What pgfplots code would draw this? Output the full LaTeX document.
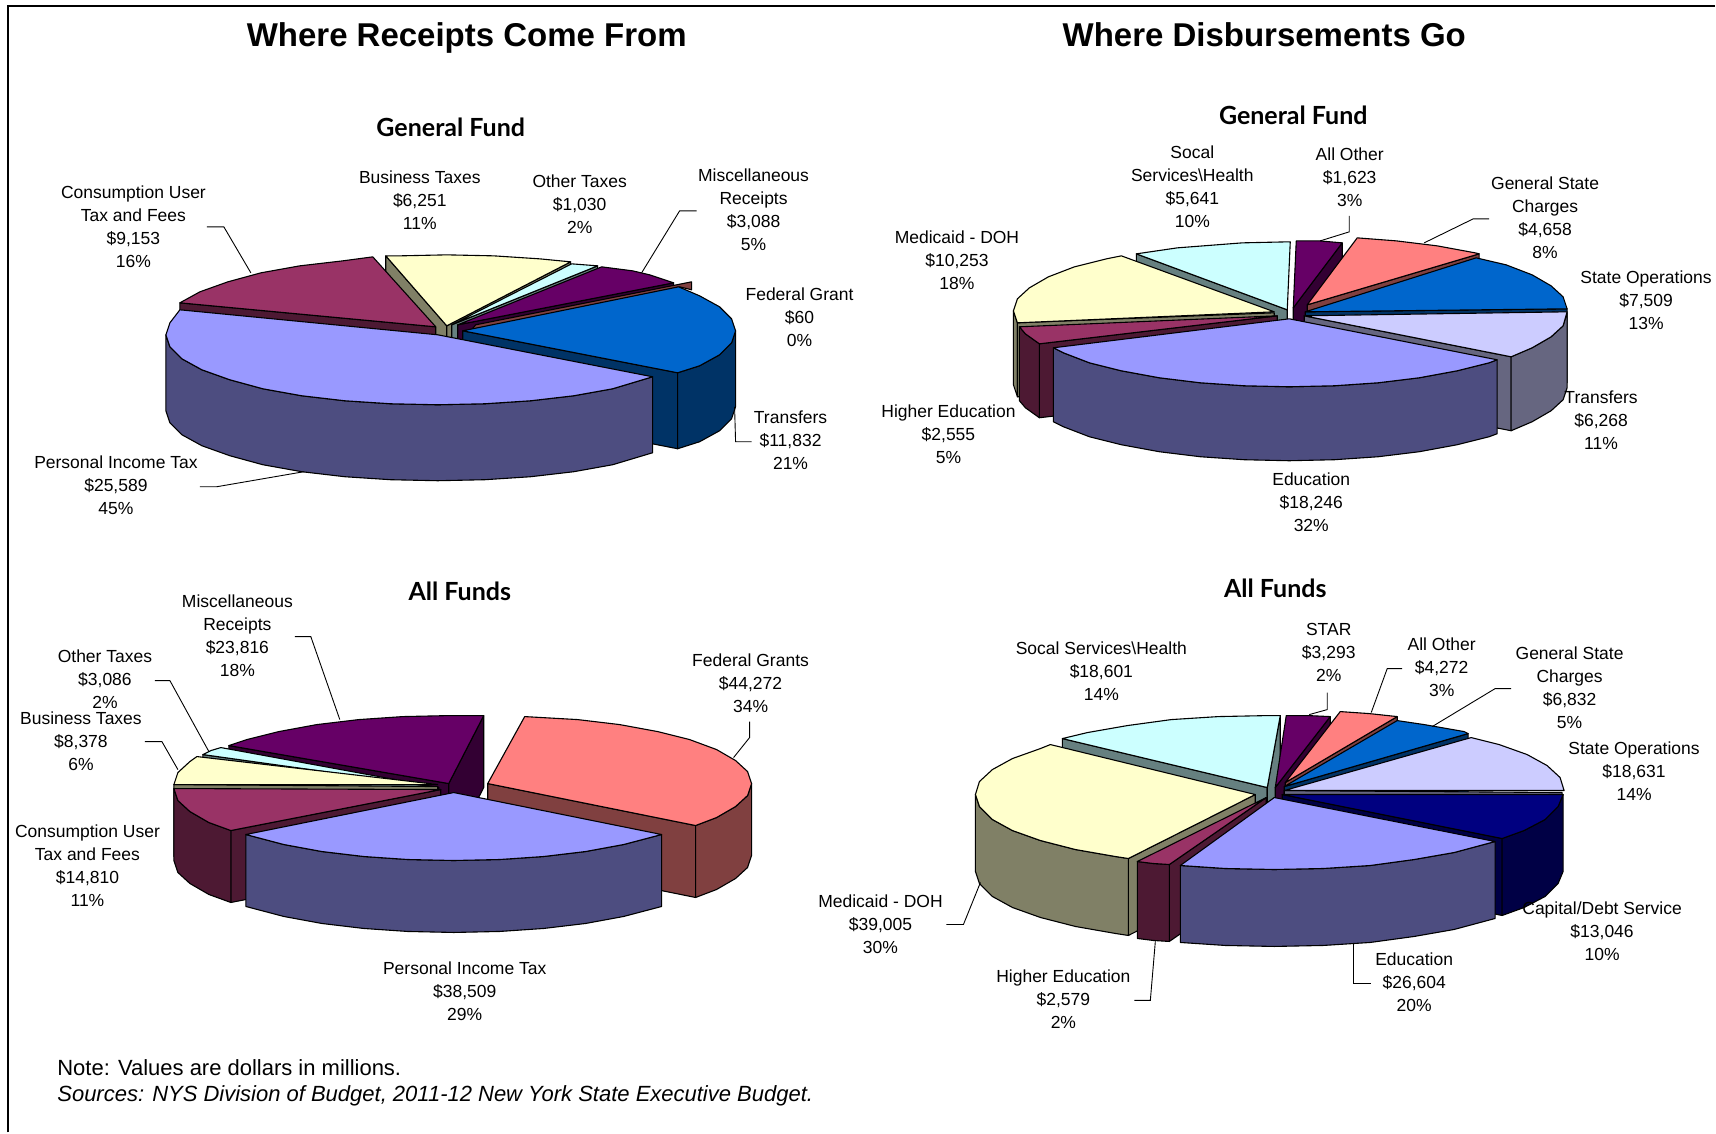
\documentclass[border=0pt]{standalone}
\usepackage{fontspec}
\setmainfont{Liberation Sans}
\newfontfamily\headfont{Lato}[BoldFont={Lato Bold}]
\usepackage{pgfplots}
\pgfplotsset{compat=1.18}
\definecolor{periA}{HTML}{9999FF}\definecolor{periB}{HTML}{4D4D80}
\definecolor{roseA}{HTML}{993366}\definecolor{roseB}{HTML}{4D1933}
\definecolor{creamA}{HTML}{FFFFCC}\definecolor{creamB}{HTML}{808066}
\definecolor{aquaA}{HTML}{CCFFFF}\definecolor{aquaB}{HTML}{668080}
\definecolor{plumA}{HTML}{660066}\definecolor{plumB}{HTML}{330033}
\definecolor{salmonA}{HTML}{FF8080}\definecolor{salmonB}{HTML}{804040}
\definecolor{blueA}{HTML}{0066CC}\definecolor{blueB}{HTML}{003366}
\definecolor{lilacA}{HTML}{CCCCFF}\definecolor{lilacB}{HTML}{666680}
\definecolor{navyA}{HTML}{000080}\definecolor{navyB}{HTML}{000045}
\pgfplotsset{
  piece/.style={draw=black,line width=0.55pt,line join=round,fill=#1,mark=none,forget plot},
  leader/.style={draw=black,line width=0.45pt,mark=none,forget plot},
}
\tikzset{
  lab/.style={align=center,inner sep=0pt,font=\fontsize{8.75}{11.5}\selectfont},
  bigtitle/.style={inner sep=0pt,anchor=base,font=\fontsize{16.5}{20}\selectfont\bfseries},
  subtitle/.style={inner sep=0pt,font=\headfont\fontsize{12.5}{15}\selectfont\bfseries},
}
\begin{document}
\begin{tikzpicture}
\begin{axis}[
  scale only axis,width=858pt,height=566.5pt,
  xmin=0,xmax=1716,ymin=0,ymax=1133,y dir=reverse,
  axis lines=none,clip=false]
% page ground and frame
\addplot[draw=none,fill=white,mark=none,forget plot] coordinates {(0,0)(1716,0)(1716,1133)(0,1133)} --cycle;
\addplot[draw=black,line width=1pt,mark=none,forget plot] coordinates {(8,1133)(8,6.5)(1716,6.5)};

% ---- Receipts, General Fund
\addplot[piece=creamB] coordinates {(386,256)(447,326)(447,402)(386,332)} --cycle;
\addplot[piece=creamB] coordinates {(571,262)(447,326)(447,402)(571,338)} --cycle;
\addplot[piece=creamA] coordinates {(447,326)(386,256)(400,256)(447,255)(494,256)(540,259)(571,262)} --cycle;
\addplot[piece=aquaB] coordinates {(598,266)(452,325)(452,401)(598,342)} --cycle;
\addplot[piece=aquaA] coordinates {(452,325)(572,264)(585,265)(598,266)} --cycle;
\addplot[piece=plumB] coordinates {(674,283)(458,325)(458,401)(674,359)} --cycle;
\addplot[piece=plumA] coordinates {(458,325)(602,267)(633,271)(650,275)(674,283)} --cycle;
\addplot[piece=salmonB] coordinates {(476,325)(692,282)(692,290)(680,287)(470,332)} --cycle;
\addplot[piece=roseB] coordinates {(180,303)(436,327)(436,403)(180,379)} --cycle;
\addplot[piece=roseA] coordinates {(436,327)(180,303)(200,292)(228,282)(261,273)(300,266)(343,261)(373,257)} --cycle;
\addplot[piece=blueB] coordinates {(463,331)(678,373)(678,449)(463,407)} --cycle;
\addplot[piece=blueB] coordinates {(678,373)(700,366)(720,355)(732,343)(736,331)(736,407)(732,419)(720,431)(700,442)(678,449)} --cycle;
\addplot[piece=blueA] coordinates {(463,331)(679,287)(700,296)(720,307)(732,319)(736,331)(732,343)(720,355)(700,366)(678,373)} --cycle;
\addplot[piece=periB] coordinates {(653,377)(613,389)(574,396)(531,401)(485,404)(438,405)(391,404)(345,401)(302,396)(263,389)(230,380)(202,370)(182,359)(170,347)(166,335)(166,411)(170,423)(182,435)(202,446)(230,456)(263,465)(302,472)(345,477)(391,480)(438,481)(485,480)(531,477)(574,472)(613,465)(653,453)} --cycle;
\addplot[piece=periA] coordinates {(438,335)(653,377)(613,389)(574,396)(531,401)(485,404)(438,405)(391,404)(345,401)(302,396)(263,389)(230,380)(202,370)(182,359)(170,347)(166,335)(170,323)(180,310)} --cycle;
\addplot[leader] coordinates {(207,227)(224,227)(251,273)};
\addplot[leader] coordinates {(697,211)(680,211)(642,273)};
\addplot[leader] coordinates {(735,407)(736,442)(752,442)};
\addplot[leader] coordinates {(200,487)(217,487)(304,472)};

% ---- Disbursements, General Fund
\addplot[piece=aquaB] coordinates {(1137,254)(1288,310)(1288,384)(1137,328)} --cycle;
\addplot[piece=aquaA] coordinates {(1288,310)(1137,254)(1178,248)(1243,243)(1288,242)(1291,242)} --cycle;
\addplot[piece=plumB] coordinates {(1343,243)(1294,308)(1294,382)(1343,317)} --cycle;
\addplot[piece=plumA] coordinates {(1294,308)(1297,241)(1320,241)(1343,243)} --cycle;
\addplot[piece=salmonB] coordinates {(1480,254)(1308,305)(1308,379)(1480,328)} --cycle;
\addplot[piece=salmonA] coordinates {(1308,305)(1358,238)(1397,241)(1438,246)(1476,253)(1480,254)} --cycle;
\addplot[piece=blueB] coordinates {(1568,309)(1306,312)(1306,386)(1568,383)} --cycle;
\addplot[piece=blueA] coordinates {(1306,312)(1477,258)(1507,265)(1533,275)(1552,286)(1564,297)(1568,309)} --cycle;
\addplot[piece=creamB] coordinates {(1014,311)(1018,323)(1018,397)(1014,385)} --cycle;
\addplot[piece=creamB] coordinates {(1018,323)(1275,313)(1275,387)(1018,397)} --cycle;
\addplot[piece=creamA] coordinates {(1275,312)(1122,256)(1107,259)(1075,267)(1049,277)(1030,288)(1018,299)(1014,311)(1018,323)} --cycle;
\addplot[piece=roseB] coordinates {(1040,344)(1278,316)(1278,390)(1040,418)} --cycle;
\addplot[piece=roseB] coordinates {(1020,327)(1026,334)(1033,339)(1040,344)(1040,418)(1033,413)(1026,408)(1020,401)} --cycle;
\addplot[piece=roseA] coordinates {(1278,316)(1020,327)(1026,334)(1033,339)(1040,344)} --cycle;
\addplot[piece=lilacB] coordinates {(1512,357)(1305,316)(1305,390)(1512,431)} --cycle;
\addplot[piece=lilacB] coordinates {(1512,357)(1533,348)(1552,337)(1564,326)(1568,313)(1568,388)(1564,400)(1552,411)(1533,422)(1512,431)} --cycle;
\addplot[piece=lilacA] coordinates {(1305,316)(1568,312)(1564,326)(1552,337)(1533,348)(1512,357)} --cycle;
\addplot[piece=periB] coordinates {(1498,360)(1490,363)(1458,371)(1420,378)(1379,383)(1335,386)(1290,387)(1245,386)(1201,383)(1160,378)(1122,371)(1090,363)(1064,353)(1054,348)(1054,422)(1064,427)(1090,437)(1122,445)(1160,452)(1201,457)(1245,460)(1290,461)(1335,460)(1379,457)(1420,452)(1458,445)(1490,437)(1498,434)} --cycle;
\addplot[piece=periA] coordinates {(1290,319)(1498,360)(1490,363)(1458,371)(1420,378)(1379,383)(1335,386)(1290,387)(1245,386)(1201,383)(1160,378)(1122,371)(1090,363)(1064,353)(1054,348)} --cycle;
\addplot[leader] coordinates {(1350,216)(1350,232)(1321,241)};
\addplot[leader] coordinates {(1490,219)(1474,219)(1425,243)};

% ---- Receipts, All Funds
\addplot[piece=plumB] coordinates {(229,746)(449,784)(449,856)(229,818)} --cycle;
\addplot[piece=plumB] coordinates {(484,716)(449,784)(449,856)(484,788)} --cycle;
\addplot[piece=plumA] coordinates {(449,784)(229,746)(247,740)(279,732)(317,725)(359,720)(403,717)(449,716)(484,716)} --cycle;
\addplot[piece=aquaB] coordinates {(203,755)(439,788)(439,860)(203,827)} --cycle;
\addplot[piece=aquaA] coordinates {(439,788)(203,755)(211,751)(221,748)} --cycle;
\addplot[piece=creamB] coordinates {(174,785)(438,787)(438,859)(174,857)} --cycle;
\addplot[piece=creamA] coordinates {(438,785)(197,757)(190,762)(178,773)(174,785)} --cycle;
\addplot[piece=roseB] coordinates {(231,831)(441,790)(441,862)(231,903)} --cycle;
\addplot[piece=roseB] coordinates {(174,789)(178,801)(190,812)(209,823)(231,831)(231,903)(209,895)(190,884)(178,873)(174,861)} --cycle;
\addplot[piece=roseA] coordinates {(441,790)(174,789)(178,801)(190,812)(209,823)(231,831)} --cycle;
\addplot[piece=salmonB] coordinates {(488,784)(696,826)(696,898)(488,856)} --cycle;
\addplot[piece=salmonB] coordinates {(696,826)(717,818)(736,807)(748,796)(752,784)(752,856)(748,868)(736,879)(717,890)(696,898)} --cycle;
\addplot[piece=salmonA] coordinates {(488,784)(525,717)(578,720)(620,725)(658,732)(690,740)(717,750)(736,761)(748,772)(752,784)(748,796)(736,807)(717,818)(696,826)} --cycle;
\addplot[piece=periB] coordinates {(662,835)(624,845)(586,852)(544,857)(500,860)(454,861)(408,860)(364,857)(322,852)(284,845)(246,835)(246,907)(284,917)(322,924)(364,929)(408,932)(454,933)(500,932)(544,929)(586,924)(624,917)(662,907)} --cycle;
\addplot[piece=periA] coordinates {(454,793)(662,835)(624,845)(586,852)(544,857)(500,860)(454,861)(408,860)(364,857)(322,852)(284,845)(246,835)} --cycle;
\addplot[leader] coordinates {(295,637)(311,637)(340,720)};
\addplot[leader] coordinates {(155,681)(170,681)(209,752)};
\addplot[leader] coordinates {(145,742)(162,742)(178,770)};
\addplot[leader] coordinates {(750,722)(750,738)(734,758)};

% ---- Disbursements, All Funds
\addplot[piece=aquaB] coordinates {(1063,739)(1268,788)(1268,865)(1063,816)} --cycle;
\addplot[piece=aquaB] coordinates {(1281,716)(1268,788)(1268,865)(1281,793)} --cycle;
\addplot[piece=aquaA] coordinates {(1268,788)(1063,739)(1088,733)(1128,726)(1172,720)(1219,717)(1268,716)(1281,716)} --cycle;
\addplot[piece=plumB] coordinates {(1331,717)(1276,788)(1276,865)(1331,794)} --cycle;
\addplot[piece=plumA] coordinates {(1276,788)(1287,716)(1309,716)(1331,717)} --cycle;
\addplot[piece=salmonB] coordinates {(1398,717)(1286,783)(1286,860)(1398,794)} --cycle;
\addplot[piece=salmonA] coordinates {(1286,783)(1341,712)(1370,714)(1398,717)} --cycle;
\addplot[piece=blueB] coordinates {(1469,734)(1285,787)(1285,864)(1469,811)} --cycle;
\addplot[piece=blueA] coordinates {(1285,787)(1398,721)(1425,725)(1465,732)(1469,734)} --cycle;
\addplot[piece=lilacB] coordinates {(1563,793)(1285,791)(1285,868)(1563,868)} --cycle;
\addplot[piece=lilacA] coordinates {(1285,791)(1472,738)(1500,745)(1528,755)(1548,766)(1561,778)(1565,791)} --cycle;
\addplot[piece=creamB] coordinates {(1129,859)(1256,795)(1256,872)(1129,936)} --cycle;
\addplot[piece=creamB] coordinates {(976,795)(980,807)(993,820)(1013,831)(1041,841)(1076,850)(1116,857)(1129,859)(1129,936)(1116,934)(1076,927)(1041,918)(1013,908)(993,897)(980,884)(976,872)} --cycle;
\addplot[piece=creamA] coordinates {(1256,795)(1051,745)(1041,749)(1013,759)(993,770)(980,782)(976,795)(980,807)(993,820)(1013,831)(1041,841)(1076,850)(1116,857)(1129,859)} --cycle;
\addplot[piece=navyB] coordinates {(1503,839)(1283,795)(1283,872)(1503,916)} --cycle;
\addplot[piece=navyB] coordinates {(1503,839)(1525,831)(1546,820)(1559,807)(1564,795)(1564,872)(1559,884)(1546,897)(1525,908)(1503,916)} --cycle;
\addplot[piece=navyA] coordinates {(1283,795)(1564,795)(1559,807)(1546,820)(1525,831)(1503,839)} --cycle;
\addplot[piece=roseB] coordinates {(1170,865)(1267,798)(1267,875)(1170,942)} --cycle;
\addplot[piece=roseB] coordinates {(1138,862)(1154,864)(1170,865)(1170,942)(1154,941)(1138,939)} --cycle;
\addplot[piece=roseA] coordinates {(1267,798)(1138,862)(1154,864)(1170,865)} --cycle;
\addplot[piece=periB] coordinates {(1496,842)(1455,853)(1415,860)(1371,866)(1324,869)(1275,870)(1226,869)(1181,866)(1181,943)(1226,946)(1275,947)(1324,946)(1371,943)(1415,937)(1455,930)(1496,919)} --cycle;
\addplot[piece=periA] coordinates {(1275,798)(1496,842)(1455,853)(1415,860)(1371,866)(1324,869)(1275,870)(1226,869)(1181,866)} --cycle;
\addplot[leader] coordinates {(1328,693)(1328,710)(1310,715)};
\addplot[leader] coordinates {(1403,669)(1388,669)(1372,713)};
\addplot[leader] coordinates {(1512,689)(1496,689)(1433,727)};
\addplot[leader] coordinates {(947,925)(964,925)(981,883)};
\addplot[leader] coordinates {(1135,1001)(1151,1001)(1156,942)};
\addplot[leader] coordinates {(1354,945)(1354,984)(1372,984)};

% ---- headings
\node[bigtitle] at (axis cs:467,46.5) {Where Receipts Come From};
\node[bigtitle] at (axis cs:1265,46.5) {Where Disbursements Go};
\node[subtitle] at (axis cs:451,127) {General Fund};
\node[subtitle] at (axis cs:1294,115) {General Fund};
\node[subtitle] at (axis cs:460,592) {All Funds};
\node[subtitle] at (axis cs:1276,589) {All Funds};

% ---- slice labels
\node[lab] at (axis cs:133.5,226.5) {Consumption User\\Tax and Fees\\\$9,153\\16\%};
\node[lab] at (axis cs:420,200) {Business Taxes\\\$6,251\\11\%};
\node[lab] at (axis cs:580,204) {Other Taxes\\\$1,030\\2\%};
\node[lab] at (axis cs:754,210) {Miscellaneous\\Receipts\\\$3,088\\5\%};
\node[lab] at (axis cs:800,317) {Federal Grant\\\$60\\0\%};
\node[lab] at (axis cs:791,440) {Transfers\\\$11,832\\21\%};
\node[lab] at (axis cs:116,486) {Personal Income Tax\\\$25,589\\45\%};

\node[lab] at (axis cs:1193,187) {Socal\\Services\textbackslash Health\\\$5,641\\10\%};
\node[lab] at (axis cs:1350.5,177) {All Other\\\$1,623\\3\%};
\node[lab] at (axis cs:1546,218) {General State\\Charges\\\$4,658\\8\%};
\node[lab] at (axis cs:1647,300) {State Operations\\\$7,509\\13\%};
\node[lab] at (axis cs:1602,420) {Transfers\\\$6,268\\11\%};
\node[lab] at (axis cs:1312,503) {Education\\\$18,246\\32\%};
\node[lab] at (axis cs:949,434.5) {Higher Education\\\$2,555\\5\%};
\node[lab] at (axis cs:957.5,260) {Medicaid - DOH\\\$10,253\\18\%};

\node[lab] at (axis cs:237.5,636) {Miscellaneous\\Receipts\\\$23,816\\18\%};
\node[lab] at (axis cs:105,680) {Other Taxes\\\$3,086\\2\%};
\node[lab] at (axis cs:81,742) {Business Taxes\\\$8,378\\6\%};
\node[lab] at (axis cs:87.5,866) {Consumption User\\Tax and Fees\\\$14,810\\11\%};
\node[lab] at (axis cs:751,684) {Federal Grants\\\$44,272\\34\%};
\node[lab] at (axis cs:465,991.5) {Personal Income Tax\\\$38,509\\29\%};

\node[lab] at (axis cs:1102,671.5) {Socal Services\textbackslash Health\\\$18,601\\14\%};
\node[lab] at (axis cs:1329.5,653) {STAR\\\$3,293\\2\%};
\node[lab] at (axis cs:1442.5,668) {All Other\\\$4,272\\3\%};
\node[lab] at (axis cs:1570.5,688) {General State\\Charges\\\$6,832\\5\%};
\node[lab] at (axis cs:1635,772) {State Operations\\\$18,631\\14\%};
\node[lab] at (axis cs:1603,932) {Capital/Debt Service\\\$13,046\\10\%};
\node[lab] at (axis cs:1415,983) {Education\\\$26,604\\20\%};
\node[lab] at (axis cs:1064,1000) {Higher Education\\\$2,579\\2\%};
\node[lab] at (axis cs:881,925) {Medicaid - DOH\\\$39,005\\30\%};

% ---- notes
\node[anchor=west,inner sep=0pt,font=\fontsize{11}{13}\selectfont] at (axis cs:57,1068) {Note: Values are dollars in millions.};
\node[anchor=west,inner sep=0pt,font=\fontsize{11}{13}\selectfont\itshape] at (axis cs:57,1096.5) {Sources: NYS Division of Budget, 2011-12 New York State Executive Budget.};
\end{axis}
\end{tikzpicture}
\end{document}
